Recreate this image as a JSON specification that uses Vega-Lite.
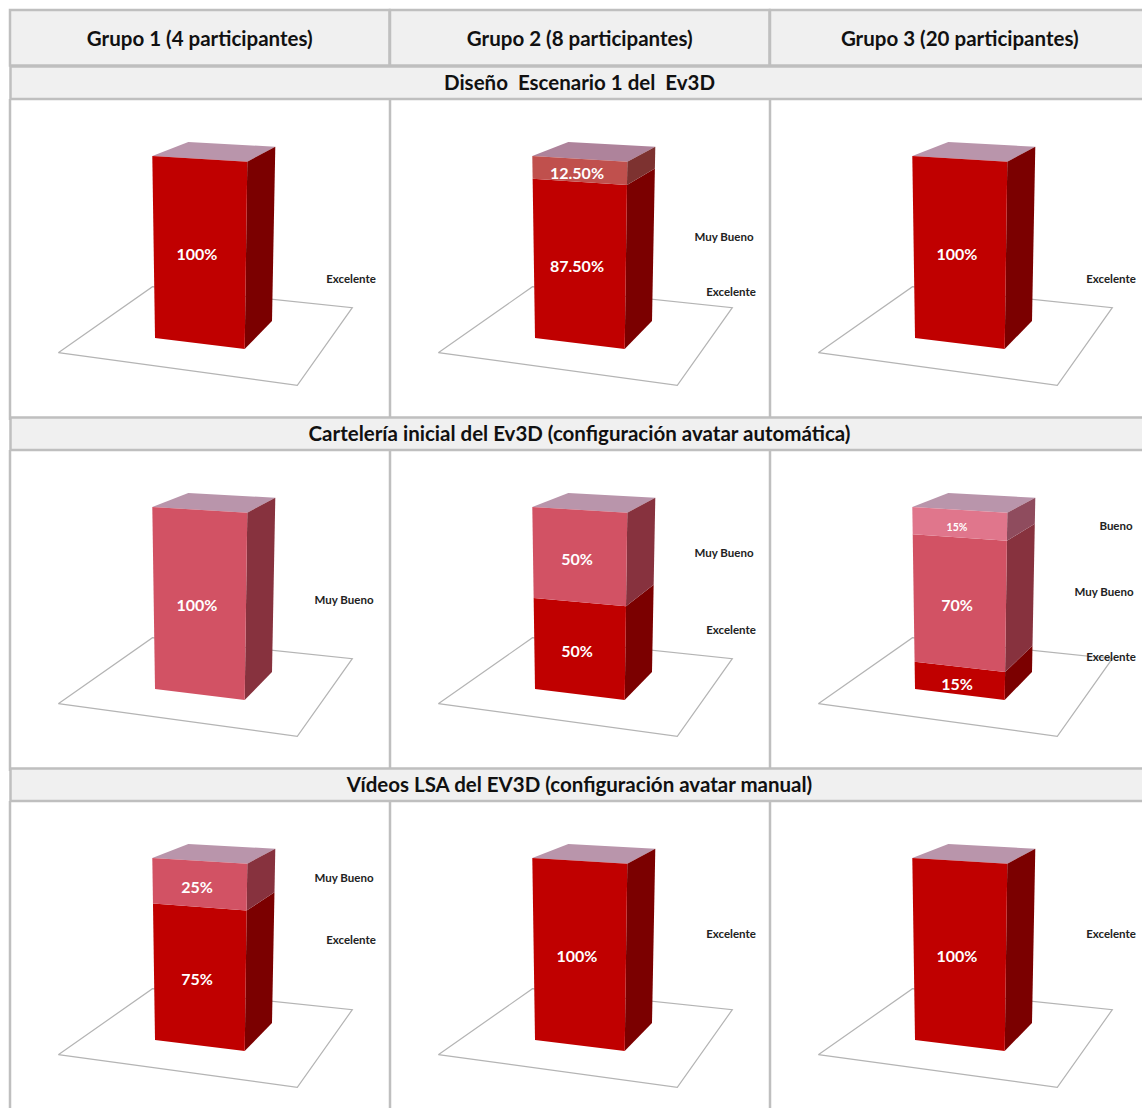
{
  "$schema": "https://vega.github.io/schema/vega-lite/v6.json",
  "background": "white",
  "padding": {"left": 5, "top": 8, "right": 0, "bottom": 0},
  "spacing": -5.5,
  "config": {"view": {"stroke": null}, "font": "Lato"},
  "datasets": {
    "grupos": [
      {"grupo": "Grupo 1 (4 participantes)"},
      {"grupo": "Grupo 2 (8 participantes)"},
      {"grupo": "Grupo 3 (20 participantes)"}
    ],
    "valoraciones": [
      {"fila": 1, "seccion": "Diseño \u00a0Escenario 1 del \u00a0Ev3D", "grupo": "Grupo 1", "nivel": 1, "valoracion": "Excelente", "porcentaje": 100, "etiqueta": "100%"},
      {"fila": 1, "seccion": "Diseño \u00a0Escenario 1 del \u00a0Ev3D", "grupo": "Grupo 2", "nivel": 1, "valoracion": "Excelente", "porcentaje": 87.5, "etiqueta": "87.50%"},
      {"fila": 1, "seccion": "Diseño \u00a0Escenario 1 del \u00a0Ev3D", "grupo": "Grupo 2", "nivel": 2, "valoracion": "Muy Bueno", "porcentaje": 12.5, "etiqueta": "12.50%"},
      {"fila": 1, "seccion": "Diseño \u00a0Escenario 1 del \u00a0Ev3D", "grupo": "Grupo 3", "nivel": 1, "valoracion": "Excelente", "porcentaje": 100, "etiqueta": "100%"},
      {"fila": 2, "seccion": "Cartelería inicial del Ev3D (configuración avatar automática)", "grupo": "Grupo 1", "nivel": 2, "valoracion": "Muy Bueno", "porcentaje": 100, "etiqueta": "100%"},
      {"fila": 2, "seccion": "Cartelería inicial del Ev3D (configuración avatar automática)", "grupo": "Grupo 2", "nivel": 1, "valoracion": "Excelente", "porcentaje": 50, "etiqueta": "50%"},
      {"fila": 2, "seccion": "Cartelería inicial del Ev3D (configuración avatar automática)", "grupo": "Grupo 2", "nivel": 2, "valoracion": "Muy Bueno", "porcentaje": 50, "etiqueta": "50%"},
      {"fila": 2, "seccion": "Cartelería inicial del Ev3D (configuración avatar automática)", "grupo": "Grupo 3", "nivel": 1, "valoracion": "Excelente", "porcentaje": 15, "etiqueta": "15%"},
      {"fila": 2, "seccion": "Cartelería inicial del Ev3D (configuración avatar automática)", "grupo": "Grupo 3", "nivel": 2, "valoracion": "Muy Bueno", "porcentaje": 70, "etiqueta": "70%"},
      {"fila": 2, "seccion": "Cartelería inicial del Ev3D (configuración avatar automática)", "grupo": "Grupo 3", "nivel": 3, "valoracion": "Bueno", "porcentaje": 15, "etiqueta": "15%"},
      {"fila": 3, "seccion": "Vídeos LSA del EV3D (configuración avatar manual)", "grupo": "Grupo 1", "nivel": 1, "valoracion": "Excelente", "porcentaje": 75, "etiqueta": "75%"},
      {"fila": 3, "seccion": "Vídeos LSA del EV3D (configuración avatar manual)", "grupo": "Grupo 1", "nivel": 2, "valoracion": "Muy Bueno", "porcentaje": 25, "etiqueta": "25%"},
      {"fila": 3, "seccion": "Vídeos LSA del EV3D (configuración avatar manual)", "grupo": "Grupo 2", "nivel": 1, "valoracion": "Excelente", "porcentaje": 100, "etiqueta": "100%"},
      {"fila": 3, "seccion": "Vídeos LSA del EV3D (configuración avatar manual)", "grupo": "Grupo 3", "nivel": 1, "valoracion": "Excelente", "porcentaje": 100, "etiqueta": "100%"}
    ]
  },
  "vconcat": [
    {
      "data": {"name": "grupos"},
      "facet": {"column": {"field": "grupo", "header": null}},
      "spacing": 0,
      "bounds": "flush",
      "spec": {
        "width": 379.5,
        "height": 55.5,
        "view": {"fill": "#f0f0f0", "stroke": "#bfbfbf", "strokeWidth": 2.5},
        "mark": {"type": "text", "font": "Lato", "fontSize": 20.5, "fontWeight": 700, "color": "#111111", "dy": 2},
        "encoding": {"text": {"field": "grupo"}}
      }
    },
    {
      "data": {"name": "valoraciones"},
      "transform": [
        {"stack": "porcentaje", "groupby": ["fila", "grupo"], "sort": [{"field": "nivel", "order": "ascending"}], "as": ["desde", "hasta"]},
        {"calculate": "datum.desde / 100", "as": "f"},
        {"calculate": "datum.hasta / 100", "as": "t"},
        {"calculate": "(datum.f + datum.t) / 2", "as": "m"},
        {"calculate": "datum.fila == 1 && datum.valoracion == 'Muy Bueno' ? 'Muy Bueno (Diseño)' : datum.valoracion", "as": "serie"}
      ],
      "facet": {
        "row": {"field": "fila", "header": null},
        "column": {"field": "grupo", "header": null}
      },
      "spacing": 0,
      "bounds": "flush",
      "spec": {
        "width": 379.5,
        "height": 350.5,
        "encoding": {
          "x": {"field": "px", "type": "quantitative", "axis": null, "scale": {"domain": [0, 379.5], "nice": false, "zero": false}},
          "y": {"field": "py", "type": "quantitative", "axis": null, "scale": {"domain": [353.5, 3], "nice": false, "zero": false}},
          "order": {"field": "i", "type": "quantitative"}
        },
        "layer": [
          {
            "description": "Vertical rule on the left of each cell, below the section band",
            "transform": [
              {"filter": "datum.desde == 0"},
              {"calculate": "[0, 1]", "as": "i"},
              {"calculate": "[0, 0]", "as": "px"},
              {"calculate": "[32.5, 353.5]", "as": "py"},
              {"flatten": ["i", "px", "py"]}
            ],
            "mark": {"type": "line", "stroke": "#bfbfbf", "strokeWidth": 2.5}
          },
          {
            "description": "Chart floor",
            "transform": [
              {"filter": "datum.desde == 0"},
              {"calculate": "[0, 1, 2, 3, 4]", "as": "i"},
              {"calculate": "[48.3, 287.3, 342.3, 142.5, 48.3]", "as": "px"},
              {"calculate": "[286.2, 318.8, 241.2, 220.2, 286.2]", "as": "py"},
              {"flatten": ["i", "px", "py"]}
            ],
            "mark": {"type": "line", "stroke": "#b4b4b4", "strokeWidth": 1.2}
          },
          {
            "description": "Top face of the column",
            "transform": [
              {"filter": "datum.hasta == 100"},
              {"calculate": "[0, 1, 2, 3]", "as": "i"},
              {"calculate": "[142.3, 237.3, 265.3, 178.3]", "as": "px"},
              {"calculate": "[89.5, 95.2, 80.2, 75.5]", "as": "py"},
              {"flatten": ["i", "px", "py"]},
              {"calculate": "'Techo ' + datum.serie", "as": "cara"}
            ],
            "mark": {"type": "line", "stroke": null},
            "encoding": {
              "fill": {
                "field": "cara", "type": "nominal", "legend": null,
                "scale": {
                  "domain": ["Techo Excelente", "Techo Muy Bueno", "Techo Muy Bueno (Diseño)", "Techo Bueno", "Lado Excelente", "Lado Muy Bueno", "Lado Muy Bueno (Diseño)", "Lado Bueno", "Frente Excelente", "Frente Muy Bueno", "Frente Muy Bueno (Diseño)", "Frente Bueno"],
                  "range": ["#b995ab", "#b995ab", "#ae839b", "#b995ab", "#7b0000", "#87323e", "#7d3230", "#8f4c5e", "#c00000", "#d25264", "#c0504d", "#e0768c"]
                }
              }
            }
          },
          {
            "description": "Side face of each stacked segment, projected from its percentage",
            "transform": [
              {"calculate": "[0, 1, 2, 3]", "as": "i"},
              {"calculate": "[234.7 + 2.6 * datum.t, 262 + 3.3 * datum.t, 262 + 3.3 * datum.f, 234.7 + 2.6 * datum.f]", "as": "px"},
              {"calculate": "[282.5 - 187.3 * datum.t, 254.5 - 174.3 * datum.t, 254.5 - 174.3 * datum.f, 282.5 - 187.3 * datum.f]", "as": "py"},
              {"flatten": ["i", "px", "py"]},
              {"calculate": "'Lado ' + datum.serie", "as": "cara"}
            ],
            "mark": {"type": "line", "stroke": null},
            "encoding": {
              "fill": {
                "field": "cara", "type": "nominal", "legend": null,
                "scale": {
                  "domain": ["Techo Excelente", "Techo Muy Bueno", "Techo Muy Bueno (Diseño)", "Techo Bueno", "Lado Excelente", "Lado Muy Bueno", "Lado Muy Bueno (Diseño)", "Lado Bueno", "Frente Excelente", "Frente Muy Bueno", "Frente Muy Bueno (Diseño)", "Frente Bueno"],
                  "range": ["#b995ab", "#b995ab", "#ae839b", "#b995ab", "#7b0000", "#87323e", "#7d3230", "#8f4c5e", "#c00000", "#d25264", "#c0504d", "#e0768c"]
                }
              }
            }
          },
          {
            "description": "Front face of each stacked segment, projected from its percentage",
            "transform": [
              {"calculate": "[0, 1, 2, 3]", "as": "i"},
              {"calculate": "[145 - 2.7 * datum.t, 234.7 + 2.6 * datum.t, 234.7 + 2.6 * datum.f, 145 - 2.7 * datum.f]", "as": "px"},
              {"calculate": "[271.5 - 182 * datum.t, 282.5 - 187.3 * datum.t, 282.5 - 187.3 * datum.f, 271.5 - 182 * datum.f]", "as": "py"},
              {"flatten": ["i", "px", "py"]},
              {"calculate": "'Frente ' + datum.serie", "as": "cara"}
            ],
            "mark": {"type": "line", "stroke": null},
            "encoding": {
              "fill": {
                "field": "cara", "type": "nominal", "legend": null,
                "scale": {
                  "domain": ["Techo Excelente", "Techo Muy Bueno", "Techo Muy Bueno (Diseño)", "Techo Bueno", "Lado Excelente", "Lado Muy Bueno", "Lado Muy Bueno (Diseño)", "Lado Bueno", "Frente Excelente", "Frente Muy Bueno", "Frente Muy Bueno (Diseño)", "Frente Bueno"],
                  "range": ["#b995ab", "#b995ab", "#ae839b", "#b995ab", "#7b0000", "#87323e", "#7d3230", "#8f4c5e", "#c00000", "#d25264", "#c0504d", "#e0768c"]
                }
              }
            }
          },
          {
            "description": "Percentage label centred on the front face",
            "transform": [
              {"calculate": "187", "as": "px"},
              {"calculate": "281 - 184.65 * datum.m", "as": "py"}
            ],
            "mark": {"type": "text", "font": "Lato", "fontWeight": 700, "color": "white"},
            "encoding": {
              "text": {"field": "etiqueta"},
              "size": {"condition": {"test": "datum.valoracion == 'Bueno'", "value": 10.5}, "value": 16}
            }
          },
          {
            "description": "Rating name beside each segment",
            "transform": [
              {"calculate": "datum.valoracion == 'Excelente' ? 341 : datum.valoracion == 'Muy Bueno' ? 334 : 346", "as": "px"},
              {"calculate": "34.5 + (datum.porcentaje == 100 ? [179, 149, 132][datum.fila - 1] : [240, 218, 184.5][datum.fila - 1] - [1.1, 1.55, 1.24][datum.fila - 1] * 100 * datum.m)", "as": "py"}
            ],
            "mark": {"type": "text", "font": "Lato", "fontWeight": 700, "fontSize": 11.5, "color": "#222222"},
            "encoding": {"text": {"field": "valoracion"}}
          },
          {
            "description": "Section band spanning the three columns, drawn from the middle one so its title stays on top",
            "transform": [
              {"filter": "datum.desde == 0 && datum.grupo == 'Grupo 2'"},
              {"calculate": "[0, 1, 2, 3]", "as": "i"},
              {"calculate": "[-379.5, 759, 759, -379.5]", "as": "px"},
              {"calculate": "[0, 0, 32.5, 32.5]", "as": "py"},
              {"flatten": ["i", "px", "py"]}
            ],
            "mark": {"type": "line", "fill": "#f0f0f0", "stroke": null}
          },
          {
            "description": "Rules around the section band",
            "transform": [
              {"filter": "datum.desde == 0 && datum.grupo == 'Grupo 2'"},
              {"calculate": "[0, 1, 2, 3]", "as": "i"},
              {"calculate": "[759, -379.5, -379.5, 759]", "as": "px"},
              {"calculate": "[0, 0, 32.5, 32.5]", "as": "py"},
              {"flatten": ["i", "px", "py"]}
            ],
            "mark": {"type": "line", "stroke": "#bfbfbf", "strokeWidth": 2.5}
          },
          {
            "description": "Section title, centred on the table through the middle column",
            "transform": [
              {"filter": "datum.desde == 0 && datum.grupo == 'Grupo 2'"},
              {"calculate": "189.5", "as": "px"},
              {"calculate": "17.5", "as": "py"}
            ],
            "mark": {"type": "text", "font": "Lato", "fontWeight": 700, "fontSize": 20.5, "color": "#111111"},
            "encoding": {"text": {"field": "seccion"}}
          }
        ]
      }
    }
  ]
}
